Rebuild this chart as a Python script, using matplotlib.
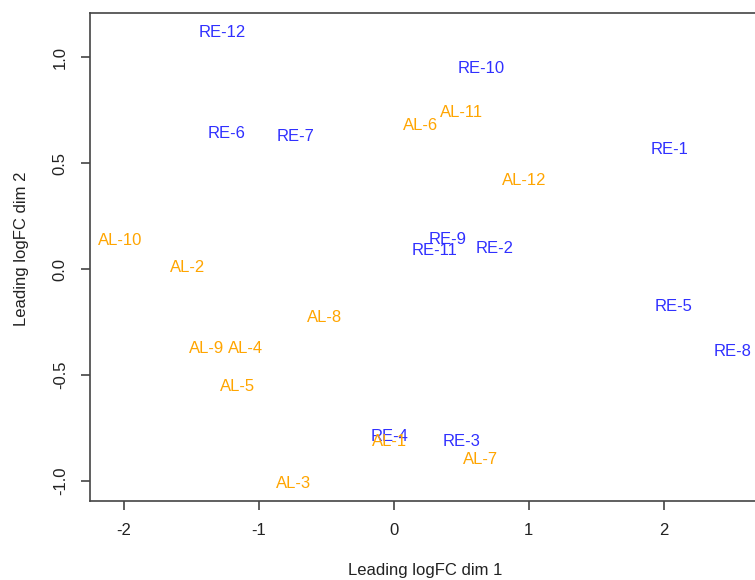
import numpy as np
import matplotlib
matplotlib.use("Agg")
import matplotlib.pyplot as plt

plt.rcParams['font.family'] = ['Liberation Sans', 'DejaVu Sans']

# MDS coordinates
labels = ["RE-12", "RE-6", "RE-7", "RE-10", "RE-1", "RE-9", "RE-11", "RE-2",
          "RE-5", "RE-8", "RE-4", "RE-3",
          "AL-10", "AL-2", "AL-11", "AL-6", "AL-12", "AL-8", "AL-9", "AL-4",
          "AL-5", "AL-3", "AL-1", "AL-7"]
dim1 = [-1.27, -1.24, -0.73, 0.645, 2.04, 0.40, 0.30, 0.75,
        2.07, 2.51, -0.03, 0.50,
        -2.03, -1.53, 0.50, 0.20, 0.97, -0.51, -1.39, -1.10,
        -1.16, -0.74, -0.03, 0.645]
dim2 = [1.118, 0.64, 0.625, 0.948, 0.566, 0.14, 0.09, 0.10,
        -0.178, -0.39, -0.79, -0.815,
        0.137, 0.01, 0.74, 0.68, 0.42, -0.226, -0.373, -0.373,
        -0.552, -1.01, -0.815, -0.897]
group = ["RE"] * 12 + ["AL"] * 12
colors = {"RE": "#3030FF", "AL": "#FFA500"}

W, H = 755, 580
fig = plt.figure(figsize=(W / 100, H / 100), dpi=100)

xlim = (-2.25, 2.72)
ylim = (-1.094, 1.21)
px_per_x = 135.0
left = 90 / W
bottom = 1 - 501 / H
height = (501 - 13) / H
width = (xlim[1] - xlim[0]) * px_per_x / W
ax = fig.add_axes([left, bottom, width, height])
ax.set_xlim(*xlim)
ax.set_ylim(*ylim)

for lab, x, y, g in zip(labels, dim1, dim2, group):
    ax.text(x, y, lab, color=colors[g], fontsize=12, ha='center', va='center')

ax.set_xticks([-2, -1, 0, 1, 2])
ax.set_xticklabels(["-2", "-1", "0", "1", "2"])
ax.set_yticks([-1.0, -0.5, 0.0, 0.5, 1.0])
ax.set_yticklabels(["-1.0", "-0.5", "0.0", "0.5", "1.0"], rotation=90, va='center')

for s in ax.spines.values():
    s.set_color('#444444')
    s.set_linewidth(1.2)
ax.tick_params(direction='out', length=6.5, width=1.2, color='#444444',
               labelsize=12, labelcolor='#222222', pad=9.5)

ax.set_xlabel("Leading logFC dim 1", fontsize=12, color='#222222')
ax.set_ylabel("Leading logFC dim 2", fontsize=12, color='#222222')
ax.xaxis.set_label_coords(425.5 / W, 1 - 563 / H, transform=fig.transFigure)
ax.yaxis.set_label_coords(29 / W, 1 - 249 / H, transform=fig.transFigure)

fig.savefig("out.png", dpi=100)
